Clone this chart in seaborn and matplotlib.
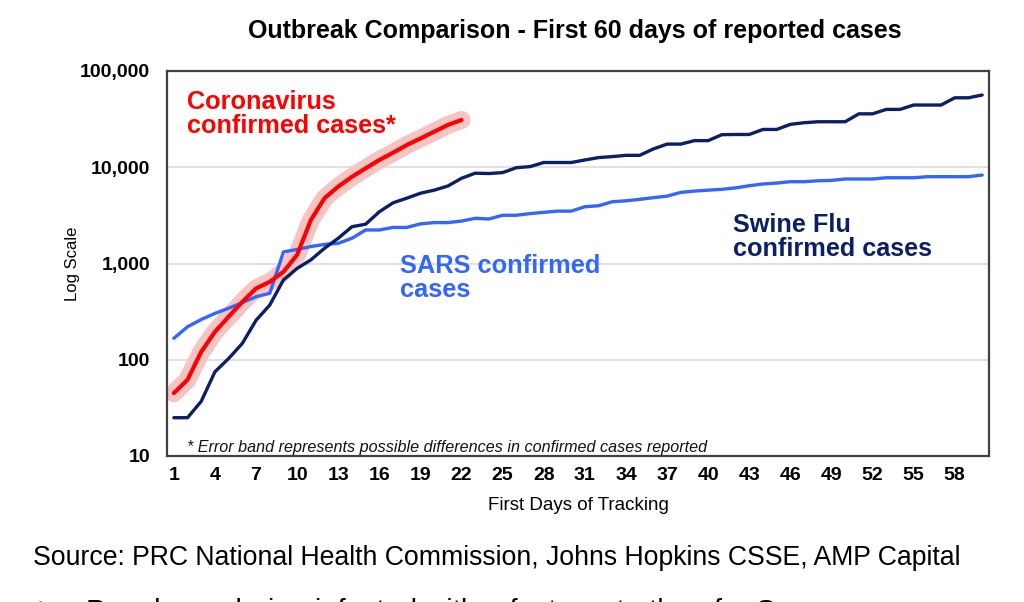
import numpy as np
import pandas as pd
import matplotlib
matplotlib.use("Agg")
import matplotlib.pyplot as plt
import seaborn as sns

# ---- data ----
days = list(range(1, 61))

corona = [45, 62, 121, 195, 280, 400, 550, 645, 820, 1230, 2830, 4770, 6300,
          7950, 9750, 11900, 14150, 17000, 19900, 23400, 27500, 31000]

swine = [25, 25, 37, 75, 103, 148, 257, 370, 675, 890, 1090, 1440, 1830, 2410,
         2560, 3450, 4270, 4770, 5370, 5780, 6380, 7680, 8680, 8600, 8800, 9900,
         10150, 11200, 11200, 11200, 11900, 12600, 12900, 13300, 13300, 15500,
         17400, 17400, 18900, 18900, 21800, 21900, 21900, 24700, 24700, 27900,
         29000, 29700, 29700, 29700, 35900, 35900, 39900, 39900, 44300, 44300,
         44300, 52700, 52700, 56300]

sars = [167, 220, 262, 303, 343, 392, 452, 490, 1320, 1400, 1500, 1580, 1620,
        1830, 2230, 2230, 2370, 2370, 2580, 2660, 2660, 2760, 2950, 2900, 3170,
        3170, 3300, 3400, 3500, 3500, 3890, 3980, 4380, 4480, 4640, 4830, 5010,
        5480, 5660, 5780, 5900, 6100, 6430, 6700, 6850, 7080, 7080, 7230, 7300,
        7550, 7550, 7550, 7780, 7780, 7780, 7980, 7980, 7980, 7980, 8300]

x_ticks = list(range(1, 61, 3))
y_ticks = [10, 100, 1000, 10000, 100000]
y_tick_labels = ["10", "100", "1,000", "10,000", "100,000"]

title = "Outbreak Comparison - First 60 days of reported cases"
source = "Source: PRC National Health Commission, Johns Hopkins CSSE, AMP Capital"
footnote = "* Error band represents possible differences in confirmed cases reported"
bullet_text = "People are being infected with a faster rate than for Severe cases"

df_c = pd.DataFrame({"day": days[:len(corona)], "cases": corona})
df_s = pd.DataFrame({"day": days, "cases": swine})
df_r = pd.DataFrame({"day": days, "cases": sars})

# ---- style ----
sns.set_theme(style="white")
plt.rcParams["font.family"] = ["Liberation Sans", "DejaVu Sans"]
plt.rcParams["text.color"] = "black"
plt.rcParams["axes.labelcolor"] = "black"
plt.rcParams["xtick.color"] = "black"
plt.rcParams["ytick.color"] = "black"

RED = "#FF0000"
BAND = "#F7C4C4"
NAVY = "#0A1F66"
BLUE = "#3366FF"

fig = plt.figure(figsize=(10.24, 6.02), dpi=100)
ax = fig.add_axes([167 / 1024, 1 - 456 / 602, (989 - 167) / 1024, (456 - 71) / 602])

for v in y_ticks[1:-1]:
    ax.axhline(v, color="#DCDCDC", lw=1.2, zorder=0)

sns.lineplot(data=df_c, x="day", y="cases", ax=ax, color=BAND, lw=13,
             solid_capstyle="round", solid_joinstyle="round", zorder=2)
sns.lineplot(data=df_r, x="day", y="cases", ax=ax, color=BLUE, lw=2.4, zorder=3)
sns.lineplot(data=df_s, x="day", y="cases", ax=ax, color=NAVY, lw=2.4, zorder=4)
sns.lineplot(data=df_c, x="day", y="cases", ax=ax, color=RED, lw=3.0, zorder=5,
             solid_joinstyle="round")

ax.set_yscale("log")
ax.set_ylim(10, 100000)
ax.set_xlim(0.5, 60.5)
ax.set_yticks(y_ticks)
ax.set_yticklabels(y_tick_labels, fontweight="bold", fontsize=14)
ax.minorticks_off()
ax.set_xticks(x_ticks)
ax.set_xticklabels([str(t) for t in x_ticks], fontweight="bold", fontsize=14)
ax.tick_params(axis="both", length=0)
ax.tick_params(axis="x", pad=8)
ax.tick_params(axis="y", pad=12)

ax.set_xlabel("First Days of Tracking", fontsize=13.5, labelpad=9)
ax.set_ylabel("Log Scale", fontsize=12, labelpad=0)

for sp in ax.spines.values():
    sp.set_color("#404040")
    sp.set_linewidth(1.6)
    sp.set_visible(True)

# annotations
ax.text(1.95, 35500, "Coronavirus\nconfirmed cases*", color=RED, fontweight="bold",
        fontsize=18.2, va="center", ha="left", linespacing=1.02)
ax.text(17.5, 710, "SARS confirmed\ncases", color=BLUE, fontweight="bold",
        fontsize=18.3, va="center", ha="left", linespacing=1.0)
ax.text(41.8, 1900, "Swine Flu\nconfirmed cases", color=NAVY, fontweight="bold",
        fontsize=18.2, va="center", ha="left", linespacing=1.0)
ax.text(1.95, 12.2, footnote, fontstyle="italic", fontsize=11.6, color="#111111",
        va="center", ha="left")

fig.text(575 / 1024, 1 - 31 / 602, title, fontweight="bold", fontsize=18,
         ha="center", va="center")
fig.text(33 / 1024, 1 - 558 / 602, source, fontsize=19.2, ha="left", va="center")
fig.text(35 / 1024, 1 - 594 / 602, "\u27a2", fontsize=18, ha="left", va="top",
         family=["DejaVu Sans"], color="#555555")
fig.text(86 / 1024, 1 - 598 / 602, bullet_text, fontsize=21, ha="left", va="top")

fig.savefig("out.png", dpi=100)
